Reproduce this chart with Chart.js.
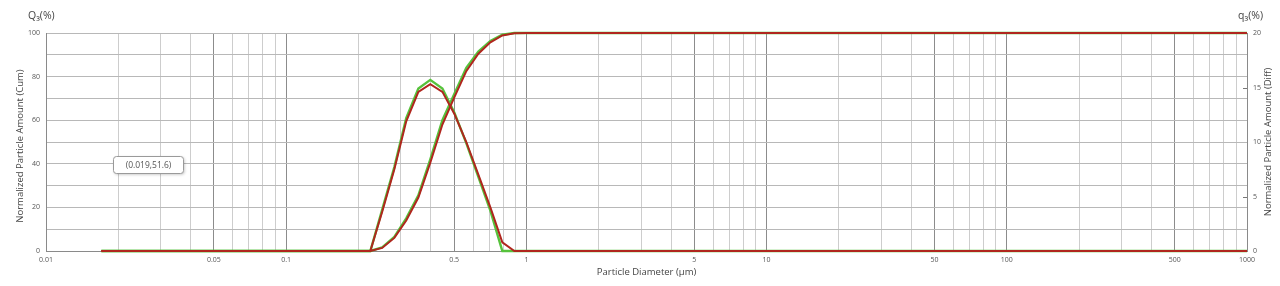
<!DOCTYPE html>
<html><head><meta charset="utf-8">
<style>html,body{margin:0;padding:0;background:#fff;}#wrap{position:relative;width:1280px;height:286px;}</style>
<script src="https://cdn.jsdelivr.net/npm/chart.js@4.4.1/dist/chart.umd.min.js"></script>
</head><body><div id="wrap"><canvas id="c" width="1280" height="286"></canvas></div>
<script>
// Particle diameters (µm)
const diameters = [0.017, 0.224, 0.251, 0.282, 0.316, 0.355, 0.398, 0.447, 0.501, 0.562, 0.631, 0.708, 0.794, 0.891, 1.0, 1000];
// Cumulative Q3 (%) - left axis
const cumGreen = [0, 0, 1.7, 6.5, 15, 25.5, 42, 60, 72, 84, 91.5, 96.3, 99.2, 100, 100, 100];
const cumRed   = [0, 0, 1.4, 6.0, 14, 24.5, 40.5, 58, 70.5, 82.5, 90.5, 95.7, 98.9, 99.9, 100, 100];
// Differential q3 (%) - right axis
const diffGreen = [0, 0, 3.8, 7.7, 12.2, 14.9, 15.7, 14.9, 12.7, 9.9, 6.8, 3.7, 0, 0, 0, 0];
const diffRed   = [0, 0, 3.6, 7.5, 11.9, 14.6, 15.3, 14.6, 12.6, 10.0, 7.0, 4.0, 0.8, 0, 0, 0];
// Axis tick labels
const xTickLabels = ['0.01', '0.05', '0.1', '0.5', '1', '5', '10', '50', '100', '500', '1000'];
const xDecades = [0.01, 0.1, 1, 10, 100];
const gridMultipliers = [1, 2, 3, 4, 5, 6, 7, 8, 9];
const yLeftLabels = ['0', '20', '40', '60', '80', '100'];
const yRightLabels = ['0', '5', '10', '15', '20'];
const annotationText = '(0.019,51.6)';

const GREEN = '#56c23c', RED = '#b0261e';
const FONT = "'Open Sans', 'DejaVu Sans', sans-serif";
const xLabelVals = xTickLabels.map(Number);
const isLabelVal = v => xLabelVals.some(l => Math.abs(l - v) / l < 1e-6);

const gridVals = [];
xDecades.forEach(d => gridMultipliers.forEach(m => gridVals.push(+(d * m).toPrecision(6))));
gridVals.push(1000);

const pts = arr => arr.map((v, i) => ({x: diameters[i], y: v}));

const textPlugin = {
  id: 'texts',
  afterDraw(chart) {
    const c = chart.ctx;
    const a = chart.chartArea;
    c.save();
    c.fillStyle = '#444';
    c.textBaseline = 'middle';
    c.font = '10.5px ' + FONT;
    c.textAlign = 'left';
    c.fillText('Q\u2083(%)', 28, 16);
    c.textAlign = 'right';
    c.fillText('q\u2083(%)', 1263, 16);
    c.font = '9.5px ' + FONT;
    c.textAlign = 'center';
    c.fillText('Particle Diameter (\u00b5m)', (a.left + a.right) / 2, 272);
    c.save(); c.translate(20, 146); c.rotate(-Math.PI / 2);
    c.fillText('Normalized Particle Amount (Cum)', 0, 0); c.restore();
    c.save(); c.translate(1268, 142); c.rotate(-Math.PI / 2);
    c.fillText('Normalized Particle Amount (Diff)', 0, 0); c.restore();
    // right-axis small tick marks
    const y1 = chart.scales.y1;
    c.strokeStyle = '#777'; c.lineWidth = 1;
    [5, 15].forEach(v => { const py = Math.round(y1.getPixelForValue(v)) + 0.5; c.beginPath(); c.moveTo(a.right - 4, py); c.lineTo(a.right, py); c.stroke(); });
    // annotation box
    const bx = 113.5, by = 156.5, bw = 70, bh = 17;
    c.shadowColor = 'rgba(0,0,0,0.25)'; c.shadowBlur = 3; c.shadowOffsetX = 1; c.shadowOffsetY = 1;
    c.fillStyle = '#fff';
    c.beginPath(); c.roundRect(bx, by, bw, bh, 3); c.fill();
    c.shadowColor = 'transparent';
    c.strokeStyle = '#9a9a9a'; c.stroke();
    c.fillStyle = '#555'; c.font = '8.5px ' + FONT; c.textAlign = 'center';
    c.fillText(annotationText, bx + bw / 2, by + bh / 2 + 0.5);
    c.restore();
  }
};

new Chart(document.getElementById('c'), {
  type: 'line',
  data: {
    datasets: [
      {label: 'q3 red', data: pts(diffRed), yAxisID: 'y1', borderColor: RED, borderWidth: 2, pointRadius: 0, tension: 0, order: 0, clip: 4},
      {label: 'Q3 red', data: pts(cumRed), yAxisID: 'y', borderColor: RED, borderWidth: 2, pointRadius: 0, tension: 0, order: 1, clip: 4},
      {label: 'q3 green', data: pts(diffGreen), yAxisID: 'y1', borderColor: GREEN, borderWidth: 2.4, pointRadius: 0, tension: 0, order: 2, clip: 4},
      {label: 'Q3 green', data: pts(cumGreen), yAxisID: 'y', borderColor: GREEN, borderWidth: 2.4, pointRadius: 0, tension: 0, order: 3, clip: 4}
    ]
  },
  options: {
    responsive: false, animation: false, devicePixelRatio: 1,
    layout: {padding: {top: 33, left: 0, right: 0, bottom: 0}},
    plugins: {legend: {display: false}, tooltip: {enabled: false}},
    scales: {
      x: {
        type: 'logarithmic', min: 0.01, max: 1000, position: 'bottom',
        afterBuildTicks: s => { s.ticks = gridVals.map(v => ({value: v})); },
        afterFit: s => { s.height = 35; },
        border: {color: '#8a8a8a'},
        grid: {drawTicks: false, color: ctx => (ctx.tick && isLabelVal(ctx.tick.value)) ? '#8c8c8c' : '#cdcdcd'},
        ticks: {autoSkip: false, maxRotation: 0, padding: 5, color: '#555', font: {size: 7, family: FONT},
          callback: v => isLabelVal(v) ? xTickLabels[xLabelVals.findIndex(l => Math.abs(l - v) / l < 1e-6)] : ''}
      },
      y: {
        type: 'linear', min: 0, max: 100, position: 'left',
        afterFit: s => { s.width = 46; },
        border: {color: '#8a8a8a'},
        grid: {drawTicks: false, color: '#b8b8b8'},
        ticks: {stepSize: 10, padding: 6, color: '#555', font: {size: 7, family: FONT},
          callback: v => yLeftLabels.includes(String(v)) ? String(v) : ''}
      },
      y1: {
        type: 'linear', min: 0, max: 20, position: 'right',
        afterFit: s => { s.width = 33; },
        border: {color: '#8a8a8a'},
        grid: {drawOnChartArea: false, drawTicks: false},
        ticks: {stepSize: 5, padding: 6, color: '#555', font: {size: 7, family: FONT},
          callback: v => yRightLabels.includes(String(v)) ? String(v) : ''}
      }
    }
  },
  plugins: [textPlugin]
});
</script></body></html>
